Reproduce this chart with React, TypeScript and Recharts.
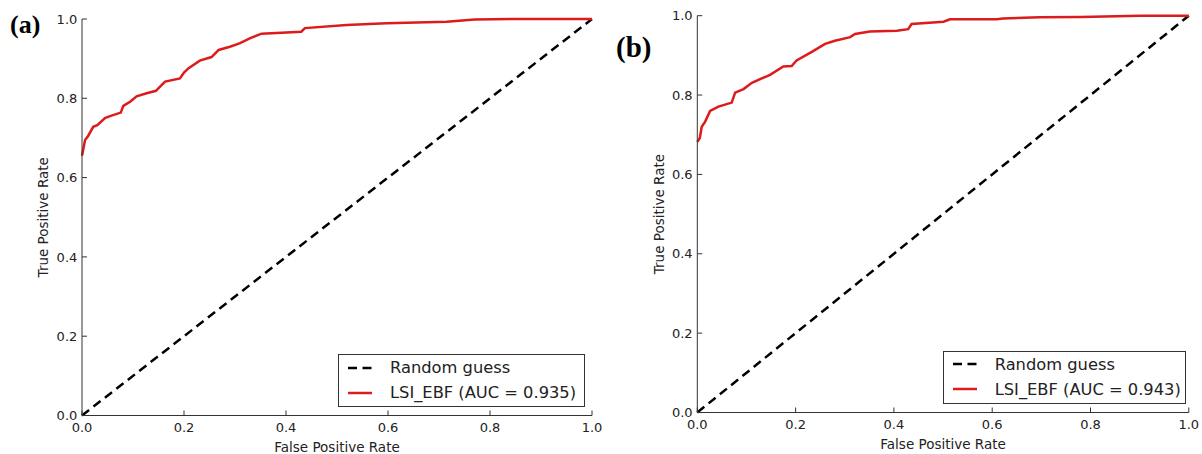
import React from "react";
import { Legend, Line, LineChart, XAxis, YAxis } from "recharts";

// ROC readings, panel (a) (the stretch along the y spine is hidden under the axis in the original)
const fprA = [0, 0.002, 0.006, 0.012, 0.022, 0.03, 0.045, 0.055, 0.076, 0.081, 0.095, 0.107, 0.125, 0.145, 0.155, 0.163, 0.192, 0.2, 0.209, 0.231, 0.254, 0.268, 0.29, 0.31, 0.33, 0.352, 0.43, 0.437, 0.519, 0.597, 0.715, 0.77, 0.85, 1];
const tprA = [0.655, 0.668, 0.695, 0.705, 0.728, 0.732, 0.75, 0.755, 0.764, 0.781, 0.792, 0.805, 0.812, 0.819, 0.832, 0.842, 0.85, 0.865, 0.876, 0.895, 0.904, 0.922, 0.93, 0.939, 0.952, 0.963, 0.968, 0.977, 0.985, 0.989, 0.993, 0.999, 1, 1];

// ROC readings, panel (b)
const fprB = [0, 0.005, 0.009, 0.016, 0.026, 0.043, 0.07, 0.077, 0.094, 0.111, 0.148, 0.175, 0.192, 0.202, 0.233, 0.26, 0.28, 0.311, 0.321, 0.351, 0.406, 0.429, 0.436, 0.501, 0.514, 0.609, 0.622, 0.697, 0.78, 0.9, 1];
const tprB = [0.682, 0.691, 0.72, 0.733, 0.76, 0.771, 0.781, 0.806, 0.815, 0.831, 0.851, 0.872, 0.873, 0.887, 0.909, 0.929, 0.937, 0.946, 0.954, 0.96, 0.962, 0.966, 0.979, 0.985, 0.991, 0.991, 0.993, 0.996, 0.997, 1, 1];

const diagX = [0, 1];
const diagY = [0, 1];

const ticks = [0, 0.2, 0.4, 0.6, 0.8, 1.0];

const RANDOM_NAME = "Random guess";

const toPoints = (xs: number[], ys: number[]) => xs.map((x, i) => ({ x, y: ys[i] }));

const FONT = "'DejaVu Sans', sans-serif";
const INK = "#222";
const RED = "#dc1c1c";

const tickStyle = { fontSize: 13, fill: INK, fontFamily: FONT };
const labelStyle = { fontSize: 13.5, fill: INK, fontFamily: FONT, textAnchor: "middle" as const };

function LegendBox({ payload }: any) {
  // random guess goes first, like the original
  const items = [...(payload || [])].sort((a: any, b: any) =>
    a.value === RANDOM_NAME ? -1 : b.value === RANDOM_NAME ? 1 : 0
  );
  return (
    <div
      style={{
        boxSizing: "border-box",
        width: "100%",
        height: 53,
        border: "1px solid #333",
        background: "#fff",
        fontFamily: FONT,
        fontSize: 16.3,
        color: INK,
      }}
    >
      {items.map((p: any) => (
        <div key={p.value} style={{ display: "flex", alignItems: "center", height: 25, paddingLeft: 9 }}>
          <svg width={24} height={10} style={{ marginRight: 18 }}>
            <line
              x1={0}
              y1={5}
              x2={24}
              y2={5}
              stroke={p.color}
              strokeWidth={2.5}
              strokeDasharray={p.payload?.strokeDasharray}
            />
          </svg>
          <span style={{ whiteSpace: "nowrap" }}>{p.value}</span>
        </div>
      ))}
    </div>
  );
}

function RocPanel({
  left,
  width,
  margin,
  xs,
  ys,
  auc,
  legendPos,
  yLabelOffset,
}: {
  left: number;
  width: number;
  margin: { top: number; right: number; bottom: number; left: number };
  xs: number[];
  ys: number[];
  auc: string;
  legendPos: { left: number; top: number; width: number };
  yLabelOffset: number;
}) {
  const fmt = (v: number) => v.toFixed(1);
  const blank = () => "";
  const axisLine = { stroke: "#333", strokeWidth: 1 };
  return (
    <div style={{ position: "absolute", left, top: 0 }}>
      <LineChart width={width} height={454} margin={margin}>
        <XAxis
          xAxisId="b"
          type="number"
          dataKey="x"
          domain={[0, 1]}
          ticks={ticks}
          tickFormatter={fmt}
          height={38}
          tickSize={-5}
          tickMargin={12}
          tick={tickStyle}
          axisLine={axisLine}
          tickLine={axisLine}
          interval={0}
          label={{ value: "False Positive Rate", position: "insideBottom", offset: 2, style: labelStyle }}
        />
        <XAxis
          xAxisId="t"
          orientation="top"
          type="number"
          dataKey="x"
          domain={[0, 1]}
          ticks={ticks}
          tickFormatter={blank}
          height={0}
          tickSize={-5}
          axisLine={axisLine}
          tickLine={axisLine}
        />
        <YAxis
          yAxisId="l"
          type="number"
          domain={[0, 1]}
          ticks={ticks}
          tickFormatter={fmt}
          width={40}
          tickSize={-5}
          tickMargin={9.7}
          tick={tickStyle}
          axisLine={axisLine}
          tickLine={axisLine}
          interval={0}
          label={{ value: "True Positive Rate", angle: -90, position: "insideLeft", offset: yLabelOffset, style: labelStyle }}
        />
        <YAxis
          yAxisId="r"
          orientation="right"
          type="number"
          domain={[0, 1]}
          ticks={ticks}
          tickFormatter={blank}
          width={0}
          tickSize={-5}
          axisLine={axisLine}
          tickLine={axisLine}
        />
        <Legend
          layout="vertical"
          align="center"
          verticalAlign="middle"
          content={<LegendBox />}
          wrapperStyle={{ left: legendPos.left, top: legendPos.top, width: legendPos.width, right: "auto", bottom: "auto" }}
        />
        <Line
          xAxisId="b"
          yAxisId="l"
          data={toPoints(diagX, diagY)}
          dataKey="y"
          name={RANDOM_NAME}
          type="linear"
          stroke="#000"
          strokeWidth={2.5}
          strokeDasharray="9 5.5"
          dot={false}
          activeDot={false}
          isAnimationActive={false}
        />
        <Line
          xAxisId="b"
          yAxisId="l"
          data={toPoints(xs, ys)}
          dataKey="y"
          name={`LSI_EBF (AUC = ${auc})`}
          type="linear"
          stroke={RED}
          strokeWidth={2.5}
          dot={false}
          activeDot={false}
          isAnimationActive={false}
        />
      </LineChart>
    </div>
  );
}

export default function App() {
  return (
    <div style={{ position: "absolute", left: 0, top: 0, width: 1202, height: 454, background: "#fff", overflow: "hidden" }}>
      <RocPanel
        left={0}
        width={612}
        margin={{ top: 19, right: 20, bottom: 0.5, left: 42 }}
        xs={fprA}
        ys={tprA}
        auc="0.935"
        legendPos={{ left: 338, top: 354, width: 247 }}
        yLabelOffset={1}
      />
      <RocPanel
        left={600}
        width={602}
        margin={{ top: 15.7, right: 13.2, bottom: 3.5, left: 57.3 }}
        xs={fprB}
        ys={tprB}
        auc="0.943"
        legendPos={{ left: 342.7, top: 350.7, width: 243.5 }}
        yLabelOffset={2}
      />
      <svg width={1202} height={454} style={{ position: "absolute", left: 0, top: 0, pointerEvents: "none" }}>
        <text x={10} y={33} fontFamily="'Liberation Serif', 'Times New Roman', serif" fontWeight="bold" fontSize={26} fill="#000">
          (a)
        </text>
        <text x={616} y={57} fontFamily="'Liberation Serif', 'Times New Roman', serif" fontWeight="bold" fontSize={29} fill="#000">
          (b)
        </text>
      </svg>
    </div>
  );
}
